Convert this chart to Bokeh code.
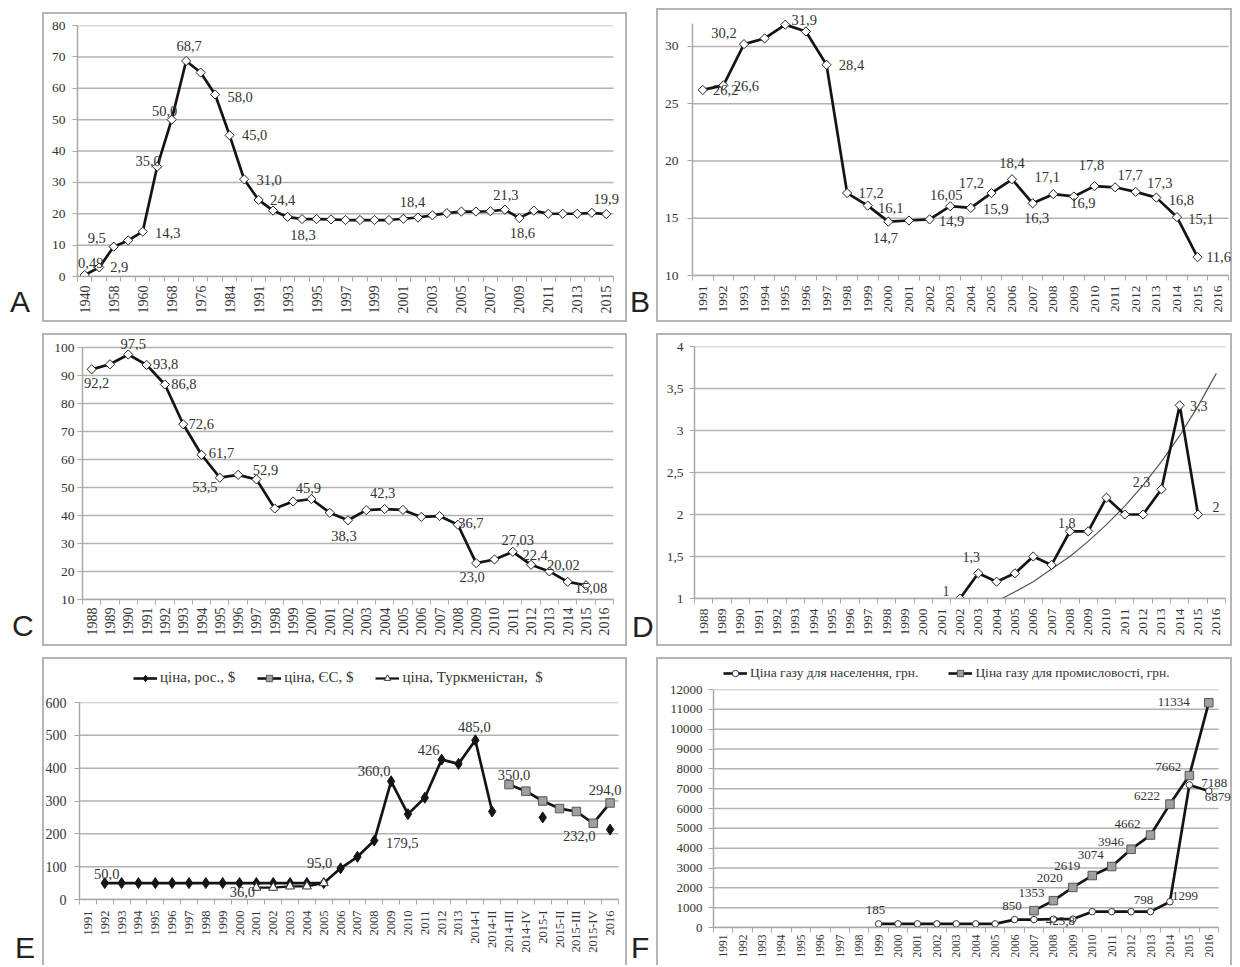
import math
from bokeh.plotting import figure
from bokeh.models import (Range1d, FixedTicker, Legend, LegendItem, Div, Spacer, Label)
from bokeh.layouts import row, column
from bokeh.embed import file_html
from bokeh.resources import INLINE

NaN = float("nan")

# ============================ DATA ============================
# --- A ---
A_years = ["1940", "", "1958", "", "1960", "", "1968", "", "1976", "", "1984", ""] + \
          [str(y) for y in range(1991, 2016)]
A_values = [0.49, 2.9, 9.5, 11.5, 14.3, 35.0, 50.0, 68.7, 65.0, 58.0, 45.0, 31.0, 24.4,
            21.0, 19.0, 18.3, 18.3, 18.2, 18.0, 18.0, 18.0, 18.0, 18.4, 18.8, 19.5, 20.2,
            20.7, 20.7, 20.8, 21.3, 18.6, 21.0, 20.0, 20.0, 20.0, 20.3, 19.9]
A_lab_idx = [0, 1, 2, 4, 5, 6, 7, 9, 10, 11, 12, 15, 22, 29, 30, 36]
A_lab_txt = ["0,49", "2,9", "9,5", "14,3", "35,0", "50,0", "68,7", "58,0", "45,0", "31,0",
             "24,4", "18,3", "18,4", "21,3", "18,6", "19,9"]
A_yticks = [0, 10, 20, 30, 40, 50, 60, 70, 80]
A_ylabels = ["0", "10", "20", "30", "40", "50", "60", "70", "80"]

# --- B ---
B_years = [str(y) for y in range(1991, 2017)]
B_values = [26.2, 26.6, 30.2, 30.7, 31.9, 31.3, 28.4, 17.2, 16.1, 14.7, 14.8, 14.9, 16.05,
            15.9, 17.2, 18.4, 16.3, 17.1, 16.9, 17.8, 17.7, 17.3, 16.8, 15.1, 11.6, NaN]
B_lab_idx = [0, 1, 2, 4, 6, 7, 8, 9, 11, 12, 13, 14, 15, 16, 17, 18, 19, 20, 21, 22, 23, 24]
B_lab_txt = ["26,2", "26,6", "30,2", "31,9", "28,4", "17,2", "16,1", "14,7", "14,9", "16,05",
             "15,9", "17,2", "18,4", "16,3", "17,1", "16,9", "17,8", "17,7", "17,3", "16,8",
             "15,1", "11,6"]
B_yticks = [10, 15, 20, 25, 30]
B_ylabels = ["10", "15", "20", "25", "30"]

# --- C ---
C_years = [str(y) for y in range(1988, 2017)]
C_values = [92.2, 94.0, 97.5, 93.8, 86.8, 72.6, 61.7, 53.5, 54.5, 52.9, 42.5, 45.0, 45.9,
            41.0, 38.3, 41.9, 42.3, 42.0, 39.5, 39.8, 36.7, 23.0, 24.3, 27.03, 22.4, 20.02,
            16.3, 15.08, NaN]
C_lab_idx = [0, 2, 3, 4, 5, 6, 7, 9, 12, 14, 16, 20, 21, 23, 24, 25, 27]
C_lab_txt = ["92,2", "97,5", "93,8", "86,8", "72,6", "61,7", "53,5", "52,9", "45,9", "38,3",
             "42,3", "36,7", "23,0", "27,03", "22,4", "20,02", "15,08"]
C_yticks = [10, 20, 30, 40, 50, 60, 70, 80, 90, 100]
C_ylabels = ["10", "20", "30", "40", "50", "60", "70", "80", "90", "100"]

# --- D ---
D_years = [str(y) for y in range(1988, 2017)]
D_values = [NaN] * 14 + [1.0, 1.3, 1.2, 1.3, 1.5, 1.4, 1.8, 1.8, 2.2, 2.0, 2.0, 2.3, 3.3,
                         2.0, NaN]
D_lab_idx = [14, 15, 20, 25, 26, 27]
D_lab_txt = ["1", "1,3", "1,8", "2,3", "3,3", "2"]
D_trend_years = [2004.3, 2005, 2006, 2007, 2008, 2009, 2010, 2011, 2012, 2013, 2014, 2015, 2016]
D_trend_vals = [1.0, 1.08, 1.2, 1.35, 1.5, 1.68, 1.88, 2.1, 2.35, 2.63, 2.94, 3.29, 3.68]
D_yticks = [1, 1.5, 2, 2.5, 3, 3.5, 4]
D_ylabels = ["1", "1,5", "2", "2,5", "3", "3,5", "4"]

# --- E ---
E_cats = [str(y) for y in range(1991, 2014)] + ["2014-I", "2014-II", "2014-III", "2014-IV",
                                                 "2015-I", "2015-II", "2015-III", "2015-IV",
                                                 "2016"]
E_rus = [NaN, 50, 50, 50, 50, 50, 50, 50, 50, 50, 50, 50, 50, 50, 50, 95, 130, 179.5, 360,
         260, 310, 426, 413, 485, 268, NaN, NaN, 250, NaN, NaN, NaN, 213]
E_eu = [NaN] * 25 + [350, 330, 300, 277, 268, 232, 294]
E_turk = [NaN] * 10 + [36, 36, 40, 40, 50] + [NaN] * 17
E_names = ["ціна, рос., $", "ціна, ЄС, $", "ціна, Туркменістан,  $"]
E_rus_lab_idx = [1, 15, 17, 18, 21, 23]
E_rus_lab_txt = ["50,0", "95,0", "179,5", "360,0", "426", "485,0"]
E_turk_lab_idx = [10]
E_turk_lab_txt = ["36,0"]
E_eu_lab_idx = [25, 30, 31]
E_eu_lab_txt = ["350,0", "232,0", "294,0"]
E_yticks = [0, 100, 200, 300, 400, 500, 600]
E_ylabels = ["0", "100", "200", "300", "400", "500", "600"]

# --- F ---
F_cats = [str(y) for y in range(1991, 2017)]
F_pop = [NaN] * 8 + [185, 185, 185, 185, 185, 185, 185, 400, 400, 423.8, 423.8, 798, 798,
                     798, 798, 1299, 7188, 6879]
F_ind = [NaN] * 16 + [850, 1353, 2020, 2619, 3074, 3946, 4662, 6222, 7662, 11334]
F_names = ["Ціна газу для населення, грн.", "Ціна газу для промисловості, грн."]
F_pop_lab_idx = [8, 17, 22, 23, 24, 25]
F_pop_lab_txt = ["185", "423,8", "798", "1299", "7188", "6879"]
F_ind_lab_idx = [16, 17, 18, 19, 20, 21, 22, 23, 24, 25]
F_ind_lab_txt = ["850", "1353", "2020", "2619", "3074", "3946", "4662", "6222", "7662", "11334"]
F_yticks = [0, 1000, 2000, 3000, 4000, 5000, 6000, 7000, 8000, 9000, 10000, 11000, 12000]
F_ylabels = [str(v) for v in F_yticks]

# ============================ STYLE ============================
AX = "#a8a8a8"
GRID = "#b2b2b2"
TXT = "#333333"
LINE = "#141414"
SERIF = "Liberation Serif"
BOX = "#b4b4b4"
SH_FULL = "inset 0 0 0 2px " + BOX
SH_OPEN = "inset 2px 2px 0 0 %s, inset -2px 0 0 0 %s" % (BOX, BOX)

# label offsets in screen pixels (dx right, dy down)
A_off = [(6, -11.5), (20, 0), (-17, -9), (25, 1), (-9, -6), (-7, -9), (3, -15), (25, 2),
         (25, 0), (25, 1), (24, 0), (1, 16), (9, -17), (1, -15), (3, 15), (0, -15)]
B_off = [(23, 0), (23, 1), (-20, -11), (19, -5), (25, 0), (24, 0), (23, 2), (-3, 16), (22, 2),
         (-4, -11), (25, 1), (-20, -10), (0, -16), (4, 15), (-6, -17), (9, 7), (-3, -21),
         (15, -12), (24, -9), (25, 2), (24, 2), (21, 0)]
C_off = [(5, 14), (5, -11), (19, -1), (19, 0), (18, 0), (20, -2), (-15, 9), (9, -9), (-3, -11),
         (-4, 16), (-2, -16), (13, -2), (-4, 14), (5, -12), (4, -10), (14, -6), (5, 3)]
D_off = [(-14, -8), (-7, -16), (-3, -8), (-20, -7), (19, 1), (18, -8)]
E_rus_off = [(2, -9), (-21, -5), (28, 2), (-17, -10), (-13, -10), (-1, -13)]
E_turk_off = [(-14, 4)]
E_eu_off = [(5, -10), (-14, 13), (-5, -13)]
F_pop_off = [(-3, -14), (7, 1.5), (-7, -12), (15, -6), (25, -2), (9, 6)]
F_ind_off = [(-22, -5), (-22, -8), (-23, -9), (-25, -10), (-21, -12), (-20, -7), (-23, -11),
             (-23, -8), (-21, -9), (-35, -1)]


def no_align(p):
    try:
        p.frame_align = False
    except Exception:
        pass


def make_panel(w, h, borders, cats, xt, yr, yticks, ylabels, xfont, yfont, xstand, ystand,
               pad_r=0, pad_t=0, shadow=None):
    """borders = intended frame borders; pad_r / pad_t enlarge the frame (not the axes)
    so that data labels are not clipped."""
    l, r, t, b = borders
    n = len(cats)
    fw = w - l - r
    fh = h - t - b
    x_end = n - 0.5 + pad_r * n / fw
    y_end = yr[1] + pad_t * (yr[1] - yr[0]) / fh
    kw = {}
    if shadow:
        kw["styles"] = {"box-shadow": shadow}
    p = figure(width=w, height=h, x_range=Range1d(-0.5, x_end), y_range=Range1d(yr[0], y_end),
               output_backend="svg", toolbar_location=None,
               min_border_left=l, min_border_right=r - pad_r, min_border_top=t - pad_t,
               min_border_bottom=b,
               border_fill_color=None, background_fill_color=None, outline_line_color=None,
               **kw)
    no_align(p)
    # horizontal grid lines limited to the real plot area
    p.segment(x0=[-0.5] * len(yticks), y0=yticks, x1=[n - 0.5] * len(yticks), y1=yticks,
              line_color=GRID, line_width=1.5)

    p.xaxis.bounds = (-0.5, n - 0.5)
    p.xaxis.ticker = FixedTicker(ticks=xt, minor_ticks=[i - 0.5 for i in range(n + 1)])
    p.xaxis.major_label_overrides = {i: cats[i] for i in xt}
    p.xaxis.major_label_orientation = math.pi / 2
    p.xaxis.major_tick_line_color = None
    p.xaxis.major_tick_out = 0
    p.xaxis.major_tick_in = 0
    p.xaxis.minor_tick_line_color = AX
    p.xaxis.minor_tick_line_width = 1
    p.xaxis.minor_tick_out = 5
    p.xaxis.minor_tick_in = 0
    p.xaxis.major_label_standoff = xstand
    p.xaxis.major_label_text_font = SERIF
    p.xaxis.major_label_text_font_size = xfont
    p.xaxis.major_label_text_color = TXT
    p.xaxis.axis_line_color = AX
    p.xaxis.axis_line_width = 1.5

    p.yaxis.bounds = (yr[0], yr[1])
    p.yaxis.ticker = FixedTicker(ticks=yticks)
    p.yaxis.major_label_overrides = {v: s for v, s in zip(yticks, ylabels)}
    p.yaxis.major_tick_line_color = AX
    p.yaxis.major_tick_out = 5
    p.yaxis.major_tick_in = 0
    p.yaxis.minor_tick_line_color = None
    p.yaxis.major_label_standoff = ystand
    p.yaxis.major_label_text_font = SERIF
    p.yaxis.major_label_text_font_size = yfont
    p.yaxis.major_label_text_color = TXT
    p.yaxis.axis_line_color = AX
    p.yaxis.axis_line_width = 1.5

    p.xgrid.visible = False
    p.ygrid.visible = False
    return p


def add_labels(p, idx, vals, texts, offs, size):
    for i, t, (dx, dy) in zip(idx, texts, offs):
        p.add_layout(Label(x=i, y=vals[i], text=t, x_offset=dx, y_offset=-dy,
                           text_font=SERIF, text_font_size=size, text_color=TXT,
                           text_align="center", text_baseline="middle"))


def diamond_series(p, vals):
    xs = list(range(len(vals)))
    p.line(xs, vals, line_width=2.7, line_color=LINE)
    p.scatter(xs, vals, marker="square", angle=math.pi / 4, size=6.5, fill_color="white",
              line_color="#222222", line_width=1)


def legend_fig(w, h, left, top, specs, spacing, font):
    lf = figure(width=w, height=h, x_range=Range1d(0, 1), y_range=Range1d(0, 1),
                x_axis_type=None, y_axis_type=None, output_backend="svg",
                toolbar_location=None, min_border_left=left, min_border_right=0,
                min_border_top=top, min_border_bottom=0, border_fill_color=None,
                background_fill_color=None, outline_line_color=None)
    no_align(lf)
    lf.xgrid.visible = False
    lf.ygrid.visible = False
    items = []
    for label, lw, mk in specs:
        # renderers kept outside the visible range: only their legend glyphs show
        rl = lf.line([5, 6], [5, 6], line_width=lw, line_color=LINE)
        rs = lf.scatter([5], [5], **mk)
        items.append(LegendItem(label=label, renderers=[rl, rs]))
    leg = Legend(items=items, orientation="horizontal", location="top_left",
                 border_line_color=None, background_fill_alpha=0, padding=0, margin=0,
                 spacing=spacing, glyph_width=24, glyph_height=16, label_height=16,
                 label_standoff=3, label_text_font=SERIF, label_text_font_size=font,
                 label_text_color=TXT)
    lf.add_layout(leg)
    return lf


def wrap(p, w):
    """isolate a plot inside its own column so its frame is not aligned with neighbours"""
    return column(Spacer(width=w, height=0, margin=0), p, spacing=0)


MK_RUS = dict(marker="diamond", size=11, fill_color=LINE, line_color=LINE)
MK_EU = dict(marker="square", size=8.5, fill_color="#a0a0a0", line_color="#555555",
             line_width=1)
MK_TURK = dict(marker="triangle", size=9, fill_color="white", line_color="#333333",
               line_width=1)
MK_POP = dict(marker="circle", size=6.5, fill_color="white", line_color="#333333",
              line_width=1)
MK_IND = dict(marker="square", size=8.5, fill_color="#a0a0a0", line_color="#555555",
              line_width=1)

# ---------------- A ----------------
pA = make_panel(585, 310, (35, 14, 13, 46), A_years, list(range(0, len(A_years), 2)),
                (0, 80), A_yticks, A_ylabels, "14px", "13.5px", 4, 7, pad_r=6,
                shadow=SH_FULL)
diamond_series(pA, A_values)
add_labels(pA, A_lab_idx, A_values, A_lab_txt, A_off, "14.5px")

# ---------------- B ----------------
pB = make_panel(576, 314, (36, 4, 15, 47), B_years, list(range(len(B_years))),
                (10, 32), B_yticks, B_ylabels, "13.5px", "13.5px", 5, 9, pad_r=3, pad_t=12,
                shadow=SH_FULL)
diamond_series(pB, B_values)
add_labels(pB, B_lab_idx, B_values, B_lab_txt, B_off, "14.5px")

# ---------------- C ----------------
pC = make_panel(585, 313, (40, 14, 14, 47), C_years, list(range(len(C_years))),
                (10, 100), C_yticks, C_ylabels, "14px", "13.5px", 3, 3, pad_t=12,
                shadow=SH_FULL)
diamond_series(pC, C_values)
add_labels(pC, C_lab_idx, C_values, C_lab_txt, C_off, "14.5px")

# ---------------- D ----------------
pD = make_panel(576, 313, (38, 7, 13, 48), D_years, list(range(len(D_years))),
                (1, 4), D_yticks, D_ylabels, "13.5px", "13.5px", 5, 6, shadow=SH_FULL)
pD.line([y - int(D_years[0]) for y in D_trend_years], D_trend_vals, line_width=1.2,
        line_color="#555555")
diamond_series(pD, D_values)
add_labels(pD, D_lab_idx, D_values, D_lab_txt, D_off, "14px")

# ---------------- E ----------------
lfE = legend_fig(585, 37, 91, 12, [(E_names[0], 2.6, MK_RUS), (E_names[1], 2.6, MK_EU),
                                    (E_names[2], 2.2, MK_TURK)], 22, "15px")
pE = make_panel(585, 271, (36, 9, 8, 66), E_cats, list(range(len(E_cats))),
                (0, 600), E_yticks, E_ylabels, "12.5px", "14px", 6, 8, pad_r=5)
xsE = list(range(len(E_cats)))
pE.line(xsE, E_rus, line_width=2.7, line_color=LINE)
pE.scatter(xsE, E_rus, **MK_RUS)
pE.line(xsE, E_eu, line_width=2.7, line_color=LINE)
pE.scatter(xsE, E_eu, **MK_EU)
pE.line(xsE, E_turk, line_width=2.2, line_color=LINE)
pE.scatter(xsE, E_turk, **MK_TURK)
add_labels(pE, E_rus_lab_idx, E_rus, E_rus_lab_txt, E_rus_off, "14.5px")
add_labels(pE, E_turk_lab_idx, E_turk, E_turk_lab_txt, E_turk_off, "14.5px")
add_labels(pE, E_eu_lab_idx, E_eu, E_eu_lab_txt, E_eu_off, "14.5px")
boxE = column(wrap(lfE, 585), wrap(pE, 585), spacing=0, styles={"box-shadow": SH_OPEN})

# ---------------- F ----------------
lfF = legend_fig(576, 24, 67, 8, [(F_names[0], 2.6, MK_POP), (F_names[1], 2.6, MK_IND)],
                 30, "13.5px")
pF = make_panel(576, 284, (57, 14, 8, 38), F_cats, list(range(len(F_cats))),
                (0, 12000), F_yticks, F_ylabels, "11.5px", "13px", 2, 6, pad_r=13)
xsF = list(range(len(F_cats)))
pF.line(xsF, F_pop, line_width=2.7, line_color=LINE)
pF.scatter(xsF, F_pop, **MK_POP)
pF.line(xsF, F_ind, line_width=2.7, line_color=LINE)
pF.scatter(xsF, F_ind, **MK_IND)
add_labels(pF, F_pop_lab_idx, F_pop, F_pop_lab_txt, F_pop_off, "13px")
add_labels(pF, F_ind_lab_idx, F_ind, F_ind_lab_txt, F_ind_off, "13px")
boxF = column(wrap(lfF, 576), wrap(pF, 576), spacing=0, styles={"box-shadow": SH_OPEN})


# ---------------- letters & layout ----------------
def letter(ch, w, h, left, bottom):
    html = ('<div style="position:relative;width:%dpx;height:%dpx;">'
            '<span style="position:absolute;left:%dpx;bottom:%dpx;'
            'font-family:\'Liberation Sans\',sans-serif;font-size:30px;line-height:30px;'
            'color:#222;">%s</span></div>') % (w, h, left, bottom, ch)
    return Div(text=html, width=w, height=h, margin=0)


row1 = row(letter("A", 34, 314, 2, 5),
           column(Spacer(width=585, height=4, margin=0), pA, spacing=0),
           letter("B", 29, 314, 3, 5), wrap(pB, 576), spacing=0)
row2 = row(letter("C", 34, 313, 4, 5), wrap(pC, 585), letter("D", 29, 313, 5, 4),
           wrap(pD, 576), spacing=0)
row3 = row(letter("E", 34, 308, 7, 2), boxE, letter("F", 29, 308, 4, 2), boxF, spacing=0)

content = column(Spacer(width=1224, height=8, margin=0), row1,
                 Spacer(width=1224, height=11, margin=0), row2,
                 Spacer(width=1224, height=11, margin=0), row3, spacing=0)
page = row(Spacer(width=8, height=965, margin=0), content, spacing=0)

open("out.html", "w").write(file_html(page, INLINE))
